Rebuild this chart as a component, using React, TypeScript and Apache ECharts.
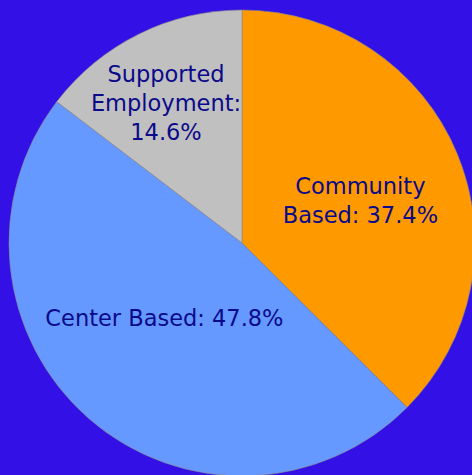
import React, { useEffect, useRef } from "react";
import * as echarts from "echarts";

const categories = ["Community Based", "Center Based", "Supported Employment"];
const values = [37.4, 47.8, 14.6];
const labelTexts = ["Community\nBased: 37.4%", "Center Based: 47.8%", "Supported\nEmployment:\n14.6%"];
const colors = ["#FF9900", "#6699FF", "#C0C0C0"];
const labelShift = [
  [8, 3],
  [1, -15],
  [-23, -33],
];

export default function App() {
  const ref = useRef<HTMLDivElement>(null);
  useEffect(() => {
    const chart = echarts.init(ref.current!, null, { renderer: "svg" });
    chart.setOption({
      animation: false,
      backgroundColor: "#3210E6",
      series: [
        {
          type: "pie",
          center: [242, 243],
          radius: 233,
          startAngle: 90,
          clockwise: true,
          data: categories.map((c, i) => ({
            name: c,
            value: values[i],
            itemStyle: { color: colors[i] },
          })),
          itemStyle: { borderColor: "#8a8a8a", borderWidth: 0.6 },
          label: {
            show: true,
            position: "inner",
            formatter: (p: any) => labelTexts[p.dataIndex],
            color: "#0A0A8A",
            fontFamily: "DejaVu Sans",
            fontSize: 22.5,
            lineHeight: 29,
            align: "center",
          },
          labelLayout: (p: any) => ({
            dx: labelShift[p.dataIndex][0],
            dy: labelShift[p.dataIndex][1],
          }),
          labelLine: { show: false },
          emphasis: { disabled: true },
        },
      ],
    });
    return () => chart.dispose();
  }, []);
  return (
    <div
      ref={ref}
      style={{ position: "absolute", left: 0, top: 0, width: 472, height: 475 }}
    />
  );
}
